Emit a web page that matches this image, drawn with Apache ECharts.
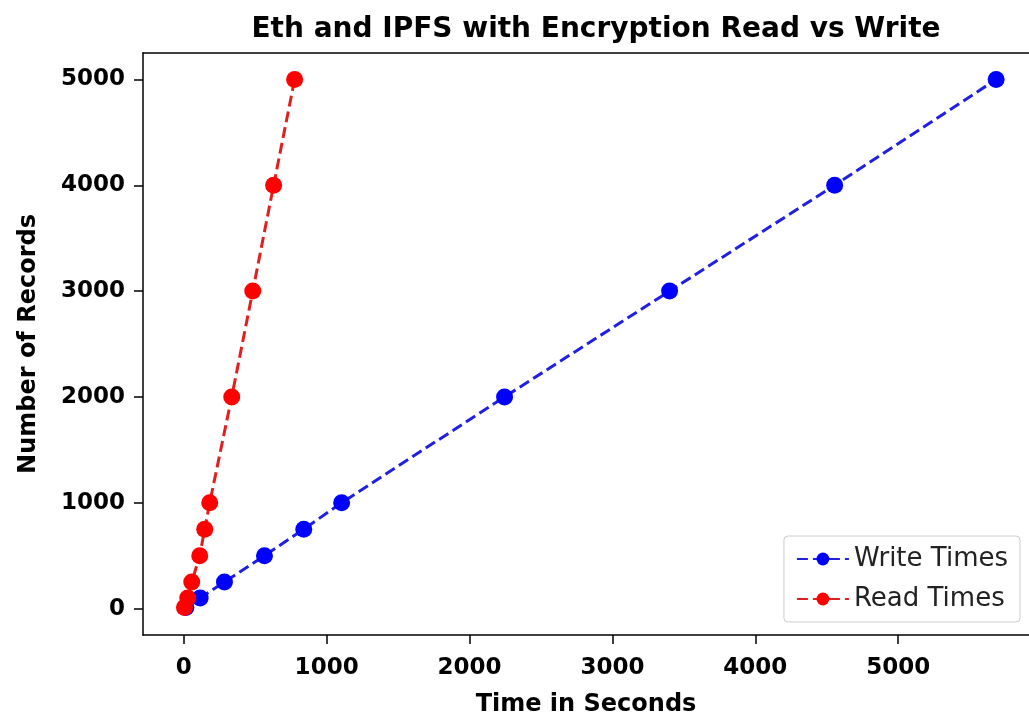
<!DOCTYPE html>
<html>
<head>
<meta charset="utf-8">
<script src="https://cdn.jsdelivr.net/npm/echarts@6/dist/echarts.min.js"></script>
<style>
    html, body { margin: 0; padding: 0; background: #fff; }
    #main { width: 1029px; height: 719px; }
</style>
</head>
<body>
<div id="main"></div>
<script>
// 记录条数
var records = [10, 100, 250, 500, 750, 1000, 2000, 3000, 4000, 5000];
// 写入时间 (s)
var writeTimes = [15, 115, 285, 565, 840, 1105, 2245, 3400, 4555, 5685];
// 读取时间 (s)
var readTimes = [5, 28, 56, 112, 147, 182, 336, 483, 629, 776];
var xTicks = [0, 1000, 2000, 3000, 4000, 5000];
var yTicks = [0, 1000, 2000, 3000, 4000, 5000];

(function () {
    var myChart = echarts.init(document.getElementById('main'));

    function pairs(xs, ys) {
        return xs.map(function (x, i) { return [x, ys[i]]; });
    }
    function plain(v) {
        return String(v);
    }

    var font = 'DejaVu Sans';
    var frame = { color: '#000', width: 1.5 };

    var option = {
        animation: false,
        title: {
            text: 'Eth and IPFS with Encryption Read vs Write',
            left: 591,
            top: 11,
            textAlign: 'center',
            textStyle: { fontFamily: font, fontSize: 28, fontWeight: 'bold', color: '#000' }
        },
        grid: {
            left: 143,
            top: 53,
            right: 0,
            bottom: 84,
            outerBoundsMode: 'none',
            containLabel: false
        },
        legend: {
            orient: 'vertical',
            right: 9,
            bottom: 97,
            itemWidth: 52,
            itemHeight: 16,
            itemGap: 14,
            padding: [10, 12, 10, 12],
            backgroundColor: '#fff',
            borderColor: '#ccc',
            borderWidth: 1,
            borderRadius: 4,
            textStyle: { fontFamily: font, fontSize: 26, color: '#222' },
            data: ['Write Times', 'Read Times']
        },
        xAxis: [
            {
                type: 'value',
                position: 'bottom',
                min: -285,
                max: 5915,
                name: 'Time in Seconds',
                nameLocation: 'middle',
                nameGap: 58,
                nameTextStyle: { fontFamily: font, fontSize: 24, fontWeight: 'bold', color: '#000' },
                splitLine: { show: false },
                axisLine: { show: true, onZero: false, lineStyle: frame },
                axisTick: { show: true, length: 9, lineStyle: frame, customValues: xTicks },
                axisLabel: { fontFamily: font, fontSize: 23, fontWeight: 'bold', color: '#000', margin: 22, customValues: xTicks, formatter: plain }
            },
            {
                type: 'value',
                position: 'top',
                min: -285,
                max: 5915,
                splitLine: { show: false },
                axisLine: { show: true, onZero: false, lineStyle: frame },
                axisTick: { show: false },
                axisLabel: { show: false }
            }
        ],
        yAxis: {
            type: 'value',
            min: -250,
            max: 5250,
            name: 'Number of Records',
            nameLocation: 'middle',
            nameGap: 102,
            nameTextStyle: { fontFamily: font, fontSize: 24, fontWeight: 'bold', color: '#000' },
            splitLine: { show: false },
            axisLine: { show: true, onZero: false, lineStyle: frame },
            axisTick: { show: true, length: 9, lineStyle: frame, customValues: yTicks },
            axisLabel: { fontFamily: font, fontSize: 23, fontWeight: 'bold', color: '#000', margin: 18, customValues: yTicks, formatter: plain }
        },
        series: [
            {
                name: 'Write Times',
                type: 'line',
                data: pairs(writeTimes, records),
                symbol: 'circle',
                symbolSize: 17,
                itemStyle: { color: '#0000ff' },
                lineStyle: { color: '#2020e0', width: 3, type: [11, 5] }
            },
            {
                name: 'Read Times',
                type: 'line',
                data: pairs(readTimes, records),
                symbol: 'circle',
                symbolSize: 17,
                itemStyle: { color: '#ff0000' },
                lineStyle: { color: '#e02020', width: 3, type: [11, 5] }
            }
        ]
    };
    myChart.setOption(option);
    window.addEventListener('resize', function () {
        myChart.resize();
    });
})();
</script>
</body>
</html>
